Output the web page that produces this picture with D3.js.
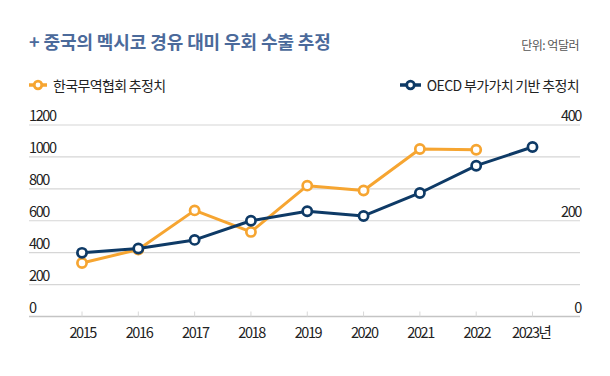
<!DOCTYPE html>
<html>
<head>
<meta charset="utf-8">
<script src="https://cdn.jsdelivr.net/npm/d3@7"></script>
<style>
  body { margin: 0; background: #fff; }
  text { font-family: "Noto Sans CJK KR", "Noto Sans", sans-serif; }
</style>
</head>
<body>
<script>
const years = ["2015", "2016", "2017", "2018", "2019", "2020", "2021", "2022", "2023"];
const yearLabels = ["2015", "2016", "2017", "2018", "2019", "2020", "2021", "2022", "2023년"];
// 한국무역협회 추정치 (left axis)
const kitaValues = [335, 420, 665, 530, 820, 790, 1050, 1045, null];
// OECD 부가가치 기반 추정치 (right axis)
const oecdValues = [133, 142, 160, 200, 220, 210, 258, 315, 354];
const leftTicks = [0, 200, 400, 600, 800, 1000, 1200];
const rightTicks = [0, 200, 400];

const width = 610, height = 376;
const margin = {left: 29, right: 30, top: 125, bottom: 59.5};
const orange = "#f6a531", navy = "#0e3a66";

const svg = d3.select("body").append("svg")
  .attr("width", width)
  .attr("height", height);

// title + unit
svg.append("text")
  .attr("x", 29).attr("y", 49)
  .attr("font-size", 18).attr("font-weight", 700)
  .attr("letter-spacing", -0.1)
  .attr("fill", "#4b6a9b")
  .text("+ 중국의 멕시코 경유 대미 우회 수출 추정");

svg.append("text")
  .attr("x", 579).attr("y", 50)
  .attr("text-anchor", "end")
  .attr("font-size", 12).attr("letter-spacing", -0.5)
  .attr("fill", "#555")
  .text("단위: 억달러");

const x = d3.scalePoint()
  .domain(years)
  .range([82, 532.5]);

const yL = d3.scaleLinear().domain([0, 1200]).range([height - margin.bottom, margin.top]);
const yR = d3.scaleLinear().domain([0, 400]).range([height - margin.bottom, margin.top]);

const g = svg.append("g");

// grid
g.selectAll(".grid")
  .data(leftTicks)
  .join("line")
  .attr("x1", margin.left).attr("x2", width - margin.right)
  .attr("y1", d => yL(d)).attr("y2", d => yL(d))
  .attr("stroke", d => d === 0 ? "#c4c4c4" : "#d6d6d6")
  .attr("stroke-width", d => d === 0 ? 1.5 : 1.2);

// left labels
g.selectAll(".ly")
  .data(leftTicks)
  .join("text")
  .attr("x", margin.left).attr("y", d => yL(d) - 4)
  .attr("font-size", 14.5).attr("letter-spacing", -1.4)
  .attr("fill", "#222")
  .text(d => d);

// right labels
g.selectAll(".ry")
  .data(rightTicks)
  .join("text")
  .attr("x", width - margin.right + 1).attr("y", d => yR(d) - 4)
  .attr("text-anchor", "end")
  .attr("font-size", 14.5).attr("letter-spacing", -1.4)
  .attr("fill", "#222")
  .text(d => d);

// x ticks + labels
g.selectAll(".xt")
  .data(years)
  .join("line")
  .attr("x1", d => x(d)).attr("x2", d => x(d))
  .attr("y1", yL(0) - 5).attr("y2", yL(0))
  .attr("stroke", "#d8d8d8");

g.selectAll(".xl")
  .data(years)
  .join("text")
  .attr("x", (d, i) => i === 8 ? x(d) - 20.5 : x(d) + 0.7)
  .attr("y", 337.5)
  .attr("text-anchor", (d, i) => i === 8 ? "start" : "middle")
  .attr("font-size", 14.5).attr("letter-spacing", -1.4)
  .attr("fill", "#222")
  .text((d, i) => yearLabels[i]);

function drawSeries(values, yScale, color) {
  const pts = values.map((v, i) => ({year: years[i], v})).filter(d => d.v != null);
  g.append("path")
    .datum(pts)
    .attr("fill", "none")
    .attr("stroke", color)
    .attr("stroke-width", 3)
    .attr("stroke-linejoin", "round")
    .attr("d", d3.line().x(d => x(d.year)).y(d => yScale(d.v)));
  g.selectAll(null)
    .data(pts)
    .join("circle")
    .attr("cx", d => x(d.year)).attr("cy", d => yScale(d.v))
    .attr("r", 4.6)
    .attr("fill", "#fff")
    .attr("stroke", color)
    .attr("stroke-width", 2.7);
}

drawSeries(kitaValues, yL, orange);
drawSeries(oecdValues, yR, navy);

// legend
function legendItem(lx, lw, tx, color, label, anchor) {
  const lg = svg.append("g");
  lg.append("line")
    .attr("x1", lx).attr("x2", lx + lw)
    .attr("y1", 85).attr("y2", 85)
    .attr("stroke", color).attr("stroke-width", 3.5);
  lg.append("circle")
    .attr("cx", lx + lw / 2).attr("cy", 85).attr("r", 3.8)
    .attr("fill", "#fff").attr("stroke", color).attr("stroke-width", 2.8);
  lg.append("text")
    .attr("x", tx).attr("y", 90.5)
    .attr("text-anchor", anchor)
    .attr("font-size", 14).attr("letter-spacing", -0.65)
    .attr("fill", "#222")
    .text(label);
}
legendItem(29, 18, 53, orange, "한국무역협회 추정치", "start");
legendItem(400, 21, 579, navy, "OECD 부가가치 기반 추정치", "end");
</script>
</body>
</html>
